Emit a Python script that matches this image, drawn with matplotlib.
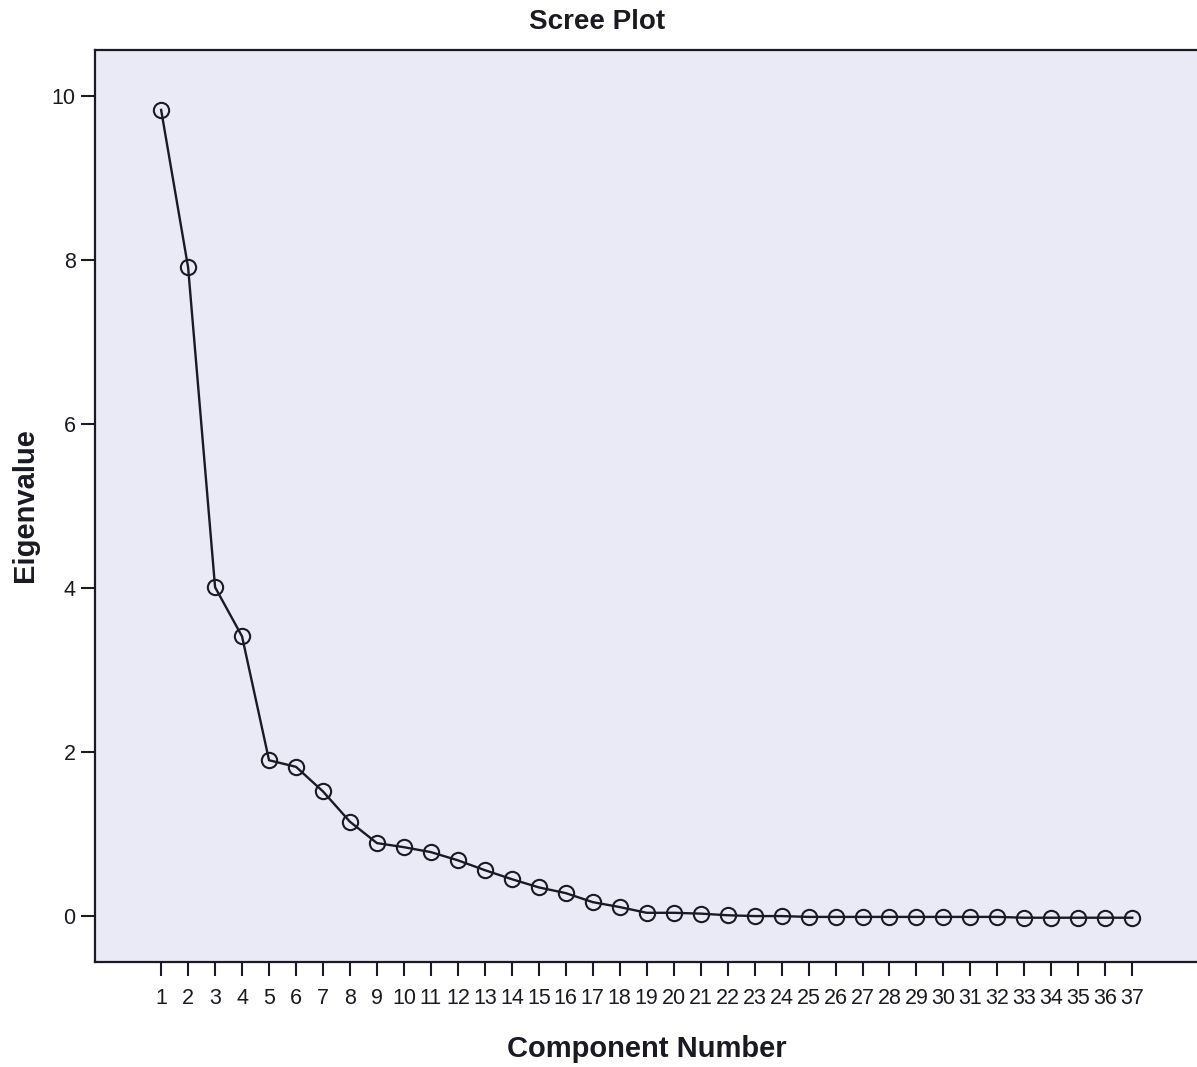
import numpy as np
import matplotlib.pyplot as plt

# datos del scree plot
componentes = np.arange(1, 38)
eigenvalores = [9.83, 7.91, 4.01, 3.41, 1.90, 1.82, 1.52, 1.15, 0.89, 0.84,
                0.78, 0.68, 0.56, 0.45, 0.35, 0.28, 0.17, 0.11, 0.04, 0.04,
                0.03, 0.01, 0.00, 0.00, -0.01, -0.01, -0.01, -0.01, -0.01, -0.01,
                -0.01, -0.01, -0.02, -0.02, -0.02, -0.02, -0.02]
yticks = [0, 2, 4, 6, 8, 10]

plt.rcParams['font.family'] = ['Liberation Sans', 'DejaVu Sans']

fig = plt.figure(figsize=(11.97, 10.67), dpi=100)
plano = fig.add_axes([0.0794, 0.0984, 0.9206, 0.8547])
plano.set_facecolor('#e9eaf5')

plano.plot(componentes, eigenvalores, color='#1a1a24', linewidth=1.7,
           marker='o', markersize=11, markerfacecolor='none',
           markeredgecolor='#1a1a24', markeredgewidth=1.5)

plano.set_xlim(-1.45, 39.4)
plano.set_ylim(-0.56, 10.56)
plano.set_xticks(componentes)
plano.set_yticks(yticks)
plano.tick_params(axis='both', direction='out', length=10, width=1.5,
                  colors='#1a1a24', labelsize=15.5, pad=4)
plano.tick_params(axis='x', pad=9)

for lado in ['left', 'bottom', 'top']:
    plano.spines[lado].set_linewidth(1.6)
    plano.spines[lado].set_color('#1a1a24')
plano.spines['right'].set_visible(False)

fig.text(0.499, 0.979, 'Scree Plot', ha='center', va='center',
         fontsize=20, fontweight='bold', color='#1a1a24')
fig.text(0.54, 0.017, 'Component Number', ha='center', va='center',
         fontsize=21, fontweight='bold', color='#1a1a24')
fig.text(0.021, 0.527, 'Eigenvalue', ha='center', va='center', rotation=90,
         fontsize=21, fontweight='bold', color='#1a1a24')

fig.savefig('out.png', dpi=100, facecolor='white')
